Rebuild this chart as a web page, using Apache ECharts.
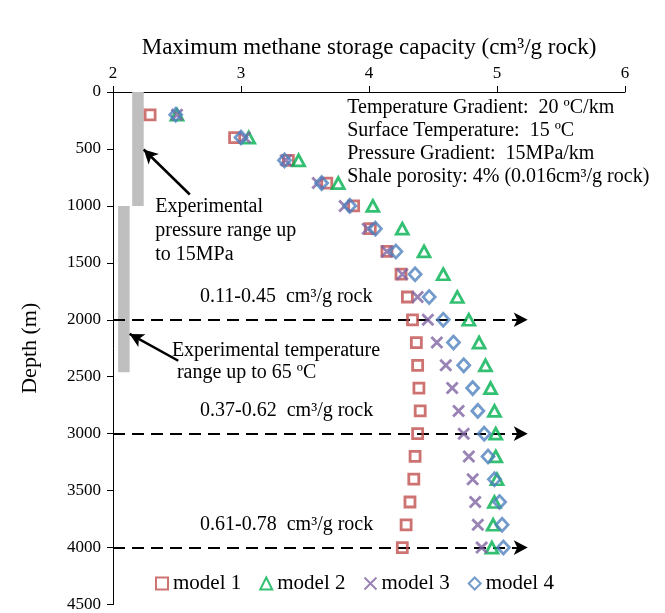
<!DOCTYPE html>
<html lang="en">
<head>
    <meta charset="utf-8">
    <title>Methane storage capacity vs depth</title>
    <script type="text/javascript" src="https://cdn.jsdelivr.net/npm/echarts@6/dist/echarts.min.js"></script>
    <style>
        html, body { margin: 0; padding: 0; background: #fff; }
        #main { width: 665px; height: 613px; }
    </style>
</head>
<body>
<div id="main"></div>
<script>
    // depth of each point (m)
    var depths = [200, 400, 600, 800, 1000, 1200, 1400, 1600, 1800, 2000,
                  2200, 2400, 2600, 2800, 3000, 3200, 3400, 3600, 3800, 4000];
    // max methane storage capacity (cm3/g rock)
    var model1 = [2.29, 2.95, 3.37, 3.67, 3.88, 4.01, 4.14, 4.25, 4.30, 4.34,
                  4.37, 4.38, 4.39, 4.40, 4.38, 4.36, 4.35, 4.32, 4.29, 4.26];
    var model2 = [2.50, 3.06, 3.45, 3.76, 4.03, 4.26, 4.43, 4.58, 4.69, 4.78,
                  4.86, 4.91, 4.95, 4.98, 4.99, 4.99, 5.00, 4.98, 4.97, 4.96];
    var model3 = [2.50, 3.03, 3.35, 3.60, 3.81, 3.99, 4.14, 4.26, 4.38, 4.46,
                  4.53, 4.60, 4.65, 4.70, 4.74, 4.78, 4.81, 4.83, 4.85, 4.88];
    var model4 = [2.49, 3.00, 3.34, 3.63, 3.85, 4.05, 4.21, 4.36, 4.47, 4.58,
                  4.66, 4.74, 4.81, 4.85, 4.90, 4.93, 4.98, 5.02, 5.04, 5.05];
    var seriesNames = ['model 1', 'model 2', 'model 3', 'model 4'];

    // experimental ranges (gray bars): [xFrom, xTo, depthFrom, depthTo]
    var pressureRange = [2.15, 2.24, 0, 1000];
    var temperatureRange = [2.04, 2.13, 1000, 2460];
    // dashed reference depths and arrow end
    var refDepths = [2000, 3000, 4000];
    var refLineEnd = 5.24;
    var rangeLabels = ['0.11-0.45  cm³/g rock', '0.37-0.62  cm³/g rock', '0.61-0.78  cm³/g rock'];

    var font = 'Liberation Serif';
    var myChart = echarts.init(document.getElementById('main'));

    function pairs(vals) {
        return depths.map(function (d, i) { return [vals[i], d]; });
    }

    var hollow = 'rgba(0,0,0,0)';
    var option = {
        animation: false,
        textStyle: { fontFamily: font, color: '#000' },
        grid: { left: 113, right: 40, top: 92, bottom: 7 },
        xAxis: {
            type: 'value', position: 'top', min: 2, max: 6, interval: 1,
            name: 'Maximum methane storage capacity (cm³/g rock)',
            nameLocation: 'middle', nameGap: 33,
            nameTextStyle: { fontFamily: font, fontSize: 23, color: '#000' },
            axisLine: { lineStyle: { color: '#000', width: 1 } },
            axisTick: { lineStyle: { color: '#000' }, length: 6 },
            axisLabel: { fontFamily: font, fontSize: 17, color: '#000', margin: 10 },
            splitLine: { show: false }
        },
        yAxis: {
            type: 'value', inverse: true, min: 0, max: 4500, interval: 500,
            name: 'Depth (m)', nameLocation: 'middle', nameGap: 72,
            nameTextStyle: { fontFamily: font, fontSize: 22, color: '#000' },
            axisLine: { lineStyle: { color: '#000', width: 1 } },
            axisTick: { lineStyle: { color: '#000' }, length: 6 },
            axisLabel: {
                fontFamily: font, fontSize: 17, color: '#000', margin: 12,
                formatter: function (v) { return String(v); }
            },
            splitLine: { show: false }
        },
        legend: {
            data: seriesNames, left: 150, top: 568, itemGap: 18,
            itemWidth: 12, itemHeight: 12,
            textStyle: { fontFamily: font, fontSize: 21, color: '#000' }
        },
        series: [
            {
                name: 'model 1', type: 'scatter', symbol: 'rect', symbolSize: 10,
                itemStyle: { color: hollow, borderColor: '#C0504D', borderWidth: 2.8 },
                data: pairs(model1), z: 5,
                markArea: {
                    silent: true,
                    itemStyle: { color: '#BFBFBF' },
                    data: [
                        [{ coord: [pressureRange[0], pressureRange[2]] }, { coord: [pressureRange[1], pressureRange[3]] }],
                        [{ coord: [temperatureRange[0], temperatureRange[2]] }, { coord: [temperatureRange[1], temperatureRange[3]] }]
                    ]
                },
                markLine: {
                    silent: true, symbol: ['none', 'arrow'], symbolSize: [11, 14],
                    label: { show: false },
                    lineStyle: { color: '#000', width: 2, type: [12, 7] },
                    data: refDepths.map(function (d) {
                        return [{ coord: [2, d] }, { coord: [refLineEnd, d] }];
                    }).concat([
                        [{ coord: [2.6, 900], lineStyle: { type: 'solid', width: 2.5 } }, { coord: [2.24, 505] }],
                        [{ coord: [2.51, 2360], lineStyle: { type: 'solid', width: 2.5 } }, { coord: [2.13, 2124] }]
                    ])
                }
            },
            {
                name: 'model 2', type: 'scatter', symbol: 'triangle', symbolSize: [12, 11],
                itemStyle: { color: hollow, borderColor: '#00B050', borderWidth: 2.8 },
                data: pairs(model2), z: 5
            },
            {
                name: 'model 3', type: 'scatter', symbol: 'path://M0,0L10,10M10,0L0,10', symbolSize: 11,
                itemStyle: { color: hollow, borderColor: '#8064A2', borderWidth: 2.8 },
                data: pairs(model3), z: 5
            },
            {
                name: 'model 4', type: 'scatter', symbol: 'diamond', symbolSize: [12, 13],
                itemStyle: { color: hollow, borderColor: '#4F81BD', borderWidth: 2.8 },
                data: pairs(model4), z: 5
            }
        ]
    };
    myChart.setOption(option);

    // text annotations, anchored at the data coordinate of their first line
    var notes = [
        { at: [3.83, 140], lh: 23, text: 'Temperature Gradient:  20 ºC/km\nSurface Temperature:  15 ºC\nPressure Gradient:  15MPa/km\nShale porosity: 4% (0.016cm³/g rock)' },
        { at: [2.33, 1010], lh: 24, text: 'Experimental\npressure range up\nto 15MPa' },
        { at: [2.46, 2270], lh: 22, text: 'Experimental temperature\n range up to 65 ºC' },
        { at: [2.68, 1800], lh: 20, text: rangeLabels[0] },
        { at: [2.68, 2800], lh: 20, text: rangeLabels[1] },
        { at: [2.68, 3800], lh: 20, text: rangeLabels[2] }
    ];
    var graphics = notes.map(function (n) {
        var p = myChart.convertToPixel({ gridIndex: 0 }, n.at);
        return {
            type: 'text', x: p[0], y: p[1] - n.lh / 2, z: 10,
            style: {
                text: n.text, fontFamily: font, fontSize: 20, fill: '#000',
                lineHeight: n.lh, verticalAlign: 'top', align: 'left'
            }
        };
    });
    myChart.setOption({ graphic: graphics });
</script>
</body>
</html>
